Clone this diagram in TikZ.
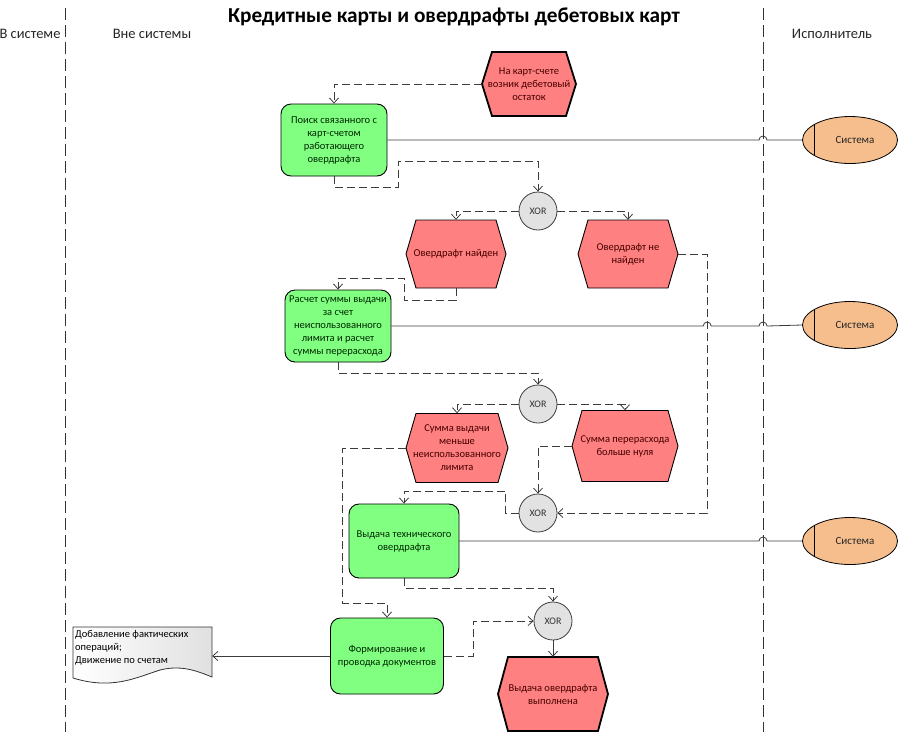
\documentclass[tikz,border=0pt]{standalone}
\usepackage{fontspec}
\setmainfont{Carlito}
\usetikzlibrary{arrows.meta,shapes.geometric,calc}
\definecolor{evfill}{RGB}{255,128,128}
\definecolor{fnfill}{RGB}{128,255,128}
\definecolor{xorfill}{RGB}{226,226,226}
\definecolor{sysfill}{RGB}{245,190,140}
\definecolor{conn}{RGB}{60,60,60}
\definecolor{evtext}{RGB}{70,0,0}
\definecolor{fntext}{RGB}{0,40,0}
\newcommand\evhex[7]{%
  \draw[line width=#6, fill=evfill, shift={(#2,#3)}]
    ({-#4/2},0) -- ({-#4/2+10},{-#5/2}) -- ({#4/2-10},{-#5/2}) -- ({#4/2},0)
    -- ({#4/2-10},{#5/2}) -- ({-#4/2+10},{#5/2}) -- cycle;
  \node[evtxt, minimum width=#4, minimum height=#5] (#1) at (#2,#3) {#7};
}
\tikzset{
  txt/.style={font=\fontsize{10.5}{13}\selectfont},
  evtxt/.style={txt, rectangle, inner sep=0pt, align=center, text=evtext},
  fn/.style={txt, rectangle, rounded corners=10pt, draw=black, line width=0.9pt, fill=fnfill,
    inner sep=0pt, align=center, text=fntext},
  xor/.style={circle, draw=conn, line width=0.8pt, fill=xorfill, minimum size=38, inner sep=0pt,
    font=\fontsize{10}{12}\selectfont, text=black!80},
  sys/.style={font=\fontsize{11}{13}\selectfont, ellipse, draw=black, line width=0.8pt, fill=sysfill, minimum width=95, minimum height=47,
    inner sep=0pt, text=black!85,
    path picture={\draw[line width=0.8pt] ([xshift=12pt]path picture bounding box.north west) -- ([xshift=12pt]path picture bounding box.south west);}},
  flow/.style={draw=conn, line width=0.8pt, dash pattern=on 8pt off 4pt, -{Straight Barb[length=5pt,width=9pt]}},
  solidflow/.style={draw=conn, line width=0.8pt, -{Straight Barb[length=5pt,width=9pt]}},
  link/.style={draw=conn, line width=0.8pt},
  lane/.style={draw=black!80, line width=1pt, dash pattern=on 12pt off 5pt},
  lanelbl/.style={font=\fontsize{14.5}{17}\selectfont, text=black!85},
}
\begin{document}
\begin{tikzpicture}[x=1pt,y=-1pt]
\useasboundingbox (0,0) rectangle (898,732);
% lanes
\draw[lane] (65,8) -- (65,732);
\draw[lane] (763,8) -- (763,732);
\coordinate (L2) at (763,0);
\node[lanelbl] (lb1) at (30,34) {В системе};
\node[lanelbl] (lb2) at (152,34) {Вне системы};
\node[lanelbl] (lb3) at (832,34) {Исполнитель};
\node[font=\fontsize{21.3}{25}\selectfont\bfseries] (title) at (454,17) {Кредитные карты и овердрафты дебетовых карт};

% events
\evhex{e1}{529}{84}{94}{64}{1.8pt}{На карт-счете\\возник дебетовый\\остаток}
\evhex{e2}{456}{254}{100}{68}{0.9pt}{Овердрафт найден}
\evhex{e3}{628}{254}{100}{68}{0.9pt}{Овердрафт не\\найден}
\evhex{e4}{457}{448}{102}{69}{0.9pt}{Сумма выдачи\\меньше\\неиспользованного\\лимита}
\evhex{e5}{625}{446}{106}{71}{0.9pt}{Сумма перерасхода\\больше нуля}
\evhex{e6}{553}{694}{110}{74}{1.8pt}{Выдача овердрафта\\выполнена}

% functions
\node[fn, minimum width=106, minimum height=72] (f1) at (334,140) {Поиск связанного с\\карт-счетом\\работающего\\овердрафта};
\node[fn, minimum width=106, minimum height=72] (f2) at (338,326) {Расчет суммы выдачи\\за счет\\неиспользованного\\лимита и расчет\\суммы перерасхода};
\node[fn, minimum width=110, minimum height=74] (f3) at (404,541) {Выдача технического\\овердрафта};
\node[fn, minimum width=113, minimum height=76] (f4) at (387,656) {Формирование и\\проводка документов};

% XOR
\node[xor] (x1) at (538,211) {XOR};
\node[xor] (x2) at (538,404) {XOR};
\node[xor] (x3) at (538,513) {XOR};
\node[xor] (x4) at (553,621) {XOR};

% performers
\node[sys] (s1) at (850,140) {\hspace*{10pt}Система};
\node[sys] (s2) at (850,325) {\hspace*{10pt}Система};
\node[sys] (s3) at (850,541) {\hspace*{10pt}Система};

% document
\path[draw=black!80, line width=0.8pt, left color=white, right color=black!12]
  (73,627) -- (212,627) -- (212,677) .. controls (195,670) and (180,665) .. (160,670)
  .. controls (135,678) and (112,690) .. (73,678) -- cycle;
\node[inner sep=0pt, minimum width=139, minimum height=50] (doc) at (142.5,652) {};
\node[txt, anchor=north west, align=left, inner sep=0pt, text=black] (doctext) at (75,630)
  {Добавление фактических\\операций;\\Движение по счетам};

% flows
\draw[flow] (e1.west) -| (f1.north);
\draw[flow] (f1.south) -- ++(0,11) -- ++(64,0) -- ++(0,-26) -| (x1.north);
\draw[flow] (x1.west) -| (e2.north);
\draw[flow] (x1.east) -| (e3.north);
\draw[flow] (e2.south) -- ++(0,12) -- ++(-52,0) -- ++(0,-22) -| (f2.north);
\draw[flow] (f2.south) -- ++(0,11) -| (x2.north);
\draw[flow] (x2.west) -| (e4.north);
\draw[flow] (x2.east) -| (e5.north);
\draw[flow] (e5.west) -| (x3.north);
\coordinate (e3r) at ($(e3.east)+(29,0)$);
\draw[flow] (e3.east) -- (e3r) |- (x3.east);
\draw[flow] (x3.west) -- ++(-13,0) -- ++(0,-22) -| (f3.north);
\draw[flow] (e4.west) -- ++(-63,0) -- ++(0,155) -| (f4.north);
\draw[flow] (f3.south) -- ++(0,10) -| (x4.north);
\draw[flow] (f4.east) -- ++(29,0) |- (x4.west);
\draw[solidflow] (x4.south) -- (e6.north);
\draw[solidflow] (f4.west) -- (f4.west -| doc.east);

% links to performers
\draw[link] (f1.east) -- ($(f1.east -| L2)+(-4,0)$) arc[start angle=180,end angle=0,radius=4pt] -- (s1.west);
\draw[link] (f2.east) -- ($(f2.east -| e3r)+(-4,0)$) arc[start angle=180,end angle=0,radius=4pt]
  -- ($(f2.east -| L2)+(-4,0)$) arc[start angle=180,end angle=0,radius=4pt] -- (s2.west);
\draw[link] (f3.east) -- ($(f3.east -| L2)+(-4,0)$) arc[start angle=180,end angle=0,radius=4pt] -- (s3.west);
\end{tikzpicture}
\end{document}
